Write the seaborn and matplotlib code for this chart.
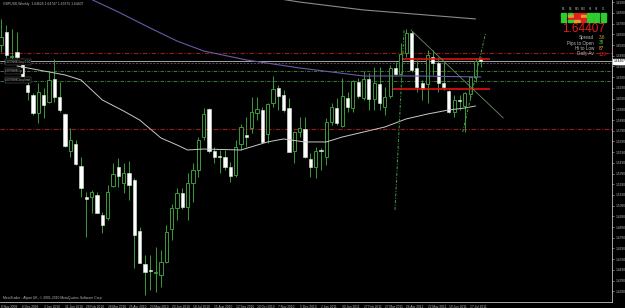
import numpy as np
import pandas as pd
import matplotlib
matplotlib.use("Agg")
import matplotlib.pyplot as plt
import seaborn as sns

# ---------------- data (GBPUSD weekly) ----------------
opens = [1.6591, 1.6712, 1.6479, 1.6525, 1.6460, 1.6217, 1.6124, 1.5956, 1.6124, 1.6058,
         1.6273, 1.6105, 1.5946, 1.5601, 1.5666, 1.5461, 1.5171, 1.5171, 1.5190, 1.5003,
         1.4975, 1.5274, 1.5451, 1.5302, 1.5395, 1.5330, 1.4853, 1.4545, 1.4489, 1.4461,
         1.4443, 1.4564, 1.4872, 1.5068, 1.5208, 1.5078, 1.5302, 1.5423, 1.5731, 1.5993,
         1.5601, 1.5554, 1.5545, 1.5451, 1.5377, 1.5666, 1.5750, 1.5815, 1.5956, 1.5984,
         1.5759, 1.6049, 1.6189, 1.6124, 1.6002, 1.5601, 1.5778, 1.5806, 1.5526, 1.5451,
         1.5610, 1.5545, 1.5871, 1.6002, 1.5834, 1.6096, 1.6002, 1.6245, 1.6096, 1.6273,
         1.6086, 1.6226, 1.6012, 1.6114, 1.6376, 1.6320, 1.6516, 1.6703, 1.6376, 1.6236,
         1.6226, 1.6479, 1.6423, 1.6236, 1.6161, 1.5965, 1.6077, 1.6021, 1.6133, 1.6292,
         1.6463]
highs = [1.6834, 1.6778, 1.6740, 1.6712, 1.6469, 1.6264, 1.6142, 1.6236, 1.6189, 1.6339,
         1.6460, 1.6245, 1.5956, 1.5815, 1.5703, 1.5545, 1.5218, 1.5236, 1.5218, 1.5031,
         1.5283, 1.5489, 1.5535, 1.5489, 1.5507, 1.5348, 1.4891, 1.4629, 1.4629, 1.4704,
         1.4676, 1.4910, 1.5106, 1.5255, 1.5255, 1.5395, 1.5489, 1.5731, 1.6002, 1.6002,
         1.5638, 1.5610, 1.5610, 1.5498, 1.5703, 1.5853, 1.5918, 1.6105, 1.6105, 1.6012,
         1.6049, 1.6301, 1.6217, 1.6170, 1.6096, 1.5787, 1.5918, 1.5918, 1.5582, 1.5638,
         1.5629, 1.5909, 1.6049, 1.6096, 1.6282, 1.6152, 1.6264, 1.6282, 1.6348, 1.6329,
         1.6385, 1.6385, 1.6198, 1.6404, 1.6432, 1.6609, 1.6740, 1.6721, 1.6451, 1.6264,
         1.6544, 1.6544, 1.6479, 1.6432, 1.6170, 1.6124, 1.6124, 1.6152, 1.6301, 1.6469,
         1.6475]
lows = [1.6525, 1.6469, 1.6451, 1.6469, 1.6245, 1.6077, 1.5937, 1.5862, 1.5909, 1.6049,
        1.6058, 1.5965, 1.5638, 1.5545, 1.5470, 1.5171, 1.4797, 1.5022, 1.5022, 1.4835,
        1.4956, 1.5264, 1.5264, 1.5208, 1.5143, 1.4508, 1.4555, 1.4258, 1.4302, 1.4284,
        1.4330, 1.4555, 1.4769, 1.4956, 1.5059, 1.4956, 1.5124, 1.5358, 1.5703, 1.5582,
        1.5489, 1.5395, 1.5423, 1.5311, 1.5358, 1.5610, 1.5638, 1.5769, 1.5890, 1.5675,
        1.5675, 1.6012, 1.5984, 1.5965, 1.5591, 1.5489, 1.5731, 1.5535, 1.5358, 1.5348,
        1.5423, 1.5470, 1.5843, 1.5843, 1.5825, 1.5965, 1.5965, 1.6096, 1.6077, 1.5984,
        1.5984, 1.5984, 1.5937, 1.6096, 1.6311, 1.6311, 1.6479, 1.6339, 1.6152, 1.6077,
        1.6049, 1.6311, 1.6152, 1.6170, 1.5956, 1.5918, 1.5984, 1.5778, 1.6077, 1.6245,
        1.6388]
closes = [1.6665, 1.6497, 1.6488, 1.6479, 1.6254, 1.6152, 1.5956, 1.6152, 1.6030, 1.6264,
          1.6105, 1.5984, 1.5647, 1.5703, 1.5479, 1.5255, 1.5152, 1.5218, 1.5022, 1.4910,
          1.5218, 1.5386, 1.5367, 1.5395, 1.5283, 1.4816, 1.4555, 1.4471, 1.4480, 1.4471,
          1.4564, 1.4844, 1.5068, 1.5208, 1.5078, 1.5302, 1.5423, 1.5703, 1.5946, 1.5601,
          1.5545, 1.5545, 1.5451, 1.5367, 1.5638, 1.5825, 1.5731, 1.5965, 1.5993, 1.5685,
          1.6040, 1.6180, 1.6114, 1.5984, 1.5591, 1.5778, 1.5815, 1.5545, 1.5451, 1.5601,
          1.5601, 1.5871, 1.6012, 1.5862, 1.6114, 1.6012, 1.6254, 1.6114, 1.6273, 1.6086,
          1.6236, 1.6049, 1.6105, 1.6376, 1.6320, 1.6507, 1.6703, 1.6357, 1.6198, 1.6180,
          1.6497, 1.6423, 1.6236, 1.6198, 1.5965, 1.6077, 1.6068, 1.6142, 1.6292, 1.6441,
          1.64407]
week_start = "2009-11-08"
date_labels = ["8 Nov 2009", "6 Dec 2009", "3 Jan 2010", "31 Jan 2010", "28 Feb 2010",
               "28 Mar 2010", "25 Apr 2010", "23 May 2010", "20 Jun 2010", "18 Jul 2010",
               "15 Aug 2010", "12 Sep 2010", "10 Oct 2010", "7 Nov 2010", "5 Dec 2010",
               "2 Jan 2011", "30 Jan 2011", "27 Feb 2011", "27 Mar 2011", "24 Apr 2011",
               "22 May 2011", "19 Jun 2011", "17 Jul 2011"]

# moving averages (values read at some bars)
ma_slow_idx = [16, 22, 28, 33, 38, 46, 56, 68, 78, 90]
ma_slow_val = [1.7039, 1.6899, 1.6749, 1.6628, 1.6535, 1.6451, 1.6376, 1.6301, 1.6301, 1.6292]
ma_mid_idx = [3, 8, 12, 15, 19, 23, 26, 30, 33, 35, 38, 45, 50, 53, 57, 61, 64, 68, 72, 76, 80, 84, 87, 89]
ma_mid_val = [1.6395, 1.6348, 1.6311, 1.6264, 1.6077, 1.5974, 1.5890, 1.5722, 1.5657, 1.5610,
              1.5619, 1.5610, 1.5685, 1.5713, 1.5685, 1.5685, 1.5731, 1.5778, 1.5825, 1.5900,
              1.5946, 1.5984, 1.6002, 1.6021]
ma_long_idx = [50, 56, 62, 68, 75, 82, 89]
ma_long_val = [1.7039, 1.6992, 1.6955, 1.6918, 1.6890, 1.6862, 1.6834]

# horizontal levels
red_levels = [1.6516, 1.5806]
green_levels = [1.6348, 1.6254]
order_level = 1.6423
order_labels = ["#20796881 buy 0.50", "#20796881 tp", "#20796881 buy limit"]
order_label_levels = [1.6432, 1.6348, 1.6264]
bid = 1.64407
sr_levels = [1.6460, 1.6180]
sr_start = [75.2, 73.5]
sr_end = 91.7

# drawn trend lines (bar index, price)
tl_a_x = [73.9, 75.6]
tl_a_y = [1.5050, 1.6730]
tl_b_x = [76.9, 94.2]
tl_b_y = [1.6730, 1.5909]
tl_c_x = [86.6, 90.9]
tl_c_y = [1.5778, 1.6703]

y_ticks = [1.6990 - 0.0100 * k for k in range(28)]

# ---------------- style ----------------
sns.set_theme(style="dark")
plt.rcParams["font.family"] = ["Liberation Sans", "DejaVu Sans"]
GREEN = "#3a9a3a"
TXT = "#b8b8b8"

W, H = 625, 308
fig = plt.figure(figsize=(W / 100, H / 100), dpi=100, facecolor="black")
ax = fig.add_axes([0, 6 / H, 612 / W, 302 / H])
ax.set_facecolor("black")

n = len(opens)
x = np.arange(n)
o = np.array(opens); c = np.array(closes); hi = np.array(highs); lo = np.array(lows)
df = pd.DataFrame({"x": x, "open": o, "high": hi, "low": lo, "close": c,
                   "date": pd.date_range(week_start, periods=n, freq="7D")})
up = (df["close"] >= df["open"]).to_numpy()

ax.vlines(df["x"], df["low"], df["high"], color=GREEN, lw=0.7, zorder=2)
bottom = np.minimum(o, c)
height = np.maximum(np.abs(c - o), 0.0003)
ax.bar(x[up], height[up], bottom=bottom[up], width=0.6, color="black",
       edgecolor=GREEN, linewidth=0.7, zorder=3)
ax.bar(x[~up], height[~up], bottom=bottom[~up], width=0.6, color="white",
       edgecolor="#dfeedf", linewidth=0.4, zorder=3)

# MAs
sns.lineplot(x=ma_slow_idx, y=ma_slow_val, ax=ax, color="#6a5aa8", lw=0.8, zorder=4)
sns.lineplot(x=ma_mid_idx, y=ma_mid_val, ax=ax, color="#c8c8c8", lw=0.7, zorder=4)
sns.lineplot(x=ma_long_idx, y=ma_long_val, ax=ax, color="#8a8a8a", lw=0.8, zorder=4)

# levels
for lv in red_levels:
    ax.axhline(lv, color="#a01818", lw=0.8, ls=(0, (4, 1.5, 1, 1.5)), zorder=1)
for lv in green_levels:
    ax.axhline(lv, color="#3f8f3f", lw=0.6, ls=(0, (4, 1.5, 1, 1.5)), zorder=1)
ax.axhline(order_level, color="#707070", lw=0.5, ls=(0, (3, 2)), zorder=1)
ax.axhline(bid, color="#c0c0c0", lw=0.6, zorder=1)
for lv, s in zip(sr_levels, sr_start):
    ax.hlines(lv, s, sr_end, color="#e01010", lw=1.2, zorder=5)
for lab, lv in zip(order_labels, order_label_levels):
    ax.text(0.8, lv, lab, fontsize=2.0, color=TXT, va="center", ha="left", zorder=6,
            bbox=dict(boxstyle="square,pad=0.2", fc="black", ec="#707070", lw=0.3))

ax.plot(tl_a_x, tl_a_y, color="#3f9f3f", lw=0.7, ls=(0, (3, 1.5, 1, 1.5)), zorder=5)
ax.plot(tl_b_x, tl_b_y, color="#6a8a6a", lw=0.6, zorder=5)
ax.plot(tl_c_x, tl_c_y, color="#3f9f3f", lw=0.7, ls=(0, (3, 1.5, 1, 1.5)), zorder=5)

# axes
ax.set_xlim(-0.19, 114.6)
ax.set_ylim(1.4190, 1.7011)
ax.set_xticks(np.arange(0, n, 4))
ax.set_xticklabels(date_labels, fontsize=2.3, color=TXT, ha="left")
ax.yaxis.tick_right()
ax.set_yticks(y_ticks)
ax.set_yticklabels([f"{v:.4f}" for v in y_ticks], fontsize=2.3, color=TXT, ha="left")
ax.tick_params(axis="both", length=1.5, width=0.4, color="#c0c0c0", pad=1)
ax.tick_params(axis="x", pad=0.8)
for s in ["top", "left"]:
    ax.spines[s].set_visible(False)
for s in ["right", "bottom"]:
    ax.spines[s].set_visible(True)
    ax.spines[s].set_color("#c0c0c0")
    ax.spines[s].set_linewidth(0.6)
ax.grid(False)
ax.set_xlabel(""); ax.set_ylabel("")

# current price label
ax.annotate(f"{bid:.5f}", xy=(1.0, bid), xycoords=("axes fraction", "data"),
            xytext=(1.2, 0), textcoords="offset points", fontsize=2.3, color="black",
            va="center", ha="left",
            bbox=dict(boxstyle="square,pad=0.15", fc="white", ec="white"))

# texts
fig.text(3 / W, 1 - 4 / H, "GBPUSD,Weekly  1.64626 1.64747 1.63875 1.64407",
         fontsize=2.4, color=TXT, va="center")
fig.text(3 / W, 1 - 298 / H, "MetaTrader - Alpari UK, © 2001-2010 MetaQuotes Software Corp.",
         fontsize=2.4, color=TXT, va="center")

# top-right panel
tf_labels = ["M1", "M5", "M15", "M30", "H1", "H4", "D1"]
panel_colors = [["#2ecc2e", "#2ecc2e", "#e02020", "#e02020", "#2ecc2e", "#2ecc2e", "#2ecc2e"],
                ["#2ecc2e", "#e0a020", "#e02020", "#e0a020", "#2ecc2e", "#2ecc2e", "#2ecc2e"],
                ["#2ecc2e", "#e02020", "#e02020", "#e02020", "#2ecc2e", "#2ecc2e", "#2ecc2e"],
                ["#2ecc2e", "#2ecc2e", "#e0a020", "#e02020", "#2ecc2e", "#2ecc2e", "#2ecc2e"]]
for j, lab in enumerate(tf_labels):
    px = 561 + j * 6.6
    fig.text((px + 2.5) / W, 1 - 9 / H, lab, fontsize=1.8, color=TXT, ha="center", va="center")
    for r, row in enumerate(panel_colors):
        fig.patches.append(plt.Rectangle((px / W, 1 - (13 + r * 2.2 + 2) / H), 5.4 / W, 1.8 / H,
                                         transform=fig.transFigure, color=row[j]))
fig.text(605 / W, 1 - 32.5 / H, "1.64407", fontsize=8.5, color="#e02020", ha="right",
         va="baseline")
info = [("Spread", "3.6", "#e0a020"), ("Pips to Open", "38", "#40d040"),
        ("Hi to Low", "87", "#e0c020"), ("Daily Av", "139", "#e02020")]
for k, (lab, val, col) in enumerate(info):
    yy = 1 - (37.5 + k * 5.5) / H
    fig.text(594 / W, yy, lab, fontsize=3.3, color=TXT, ha="right", va="center")
    fig.text(599 / W, yy, val, fontsize=3.3, color=col, ha="left", va="center")

fig.savefig("out.png", dpi=100, facecolor="black")
